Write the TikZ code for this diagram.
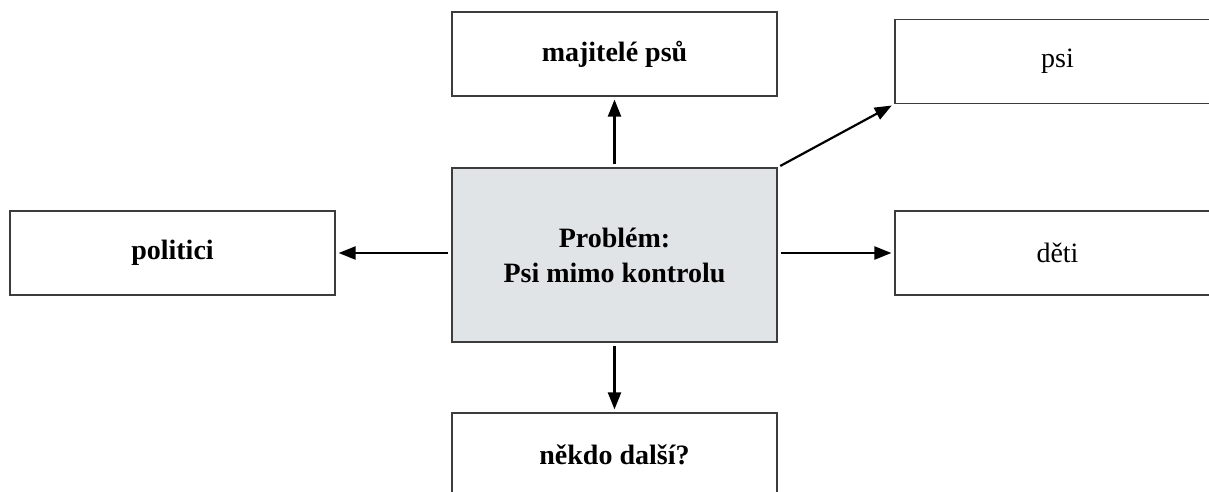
\documentclass[tikz,border=0pt]{standalone}
\usepackage{fontspec}
\setmainfont{Liberation Serif}
\usetikzlibrary{arrows.meta}
\definecolor{probfill}{RGB}{225,228,230}
\definecolor{boxline}{RGB}{60,60,60}
\tikzset{
  party/.style={draw=boxline, line width=1.2pt, minimum width=325pt, minimum height=84pt,
    inner sep=0pt, font=\fontsize{28}{32}\selectfont},
  boldparty/.style={party, font=\fontsize{28}{32}\selectfont\bfseries},
  problem/.style={party, fill=probfill, minimum height=174pt, align=center,
    font=\fontsize{28}{35}\selectfont\bfseries},
  link/.style={line width=2.2pt, -{Triangle[length=17pt,width=13pt]}, shorten <=3pt, shorten >=3pt}
}

\begin{document}
\begin{tikzpicture}[x=1pt,y=-1pt]
\clip (0,0) rectangle (1209,491);
\fill[white] (0,0) rectangle (1209,491);
\node[problem] (prob) at (614.5,255) {Problém:\\Psi mimo kontrolu};
\node[boldparty] (owners) at (614.5,54) {majitelé psů};
\node[party] (dogs) at (1057.5,61.5) {psi};
\node[party] (kids) at (1057.5,253) {děti};
\node[boldparty] (pols) at (172.5,253) {politici};
\node[boldparty] (others) at (614.5,455) {někdo další?};

\draw[link] (prob) -- (owners);
\draw[link] (prob.north east) -- (dogs.south west);
\draw[link] (prob.east |- kids) -- (kids);
\draw[link] (prob.west |- pols) -- (pols);
\draw[link] (prob) -- (others);
\end{tikzpicture}
\end{document}
